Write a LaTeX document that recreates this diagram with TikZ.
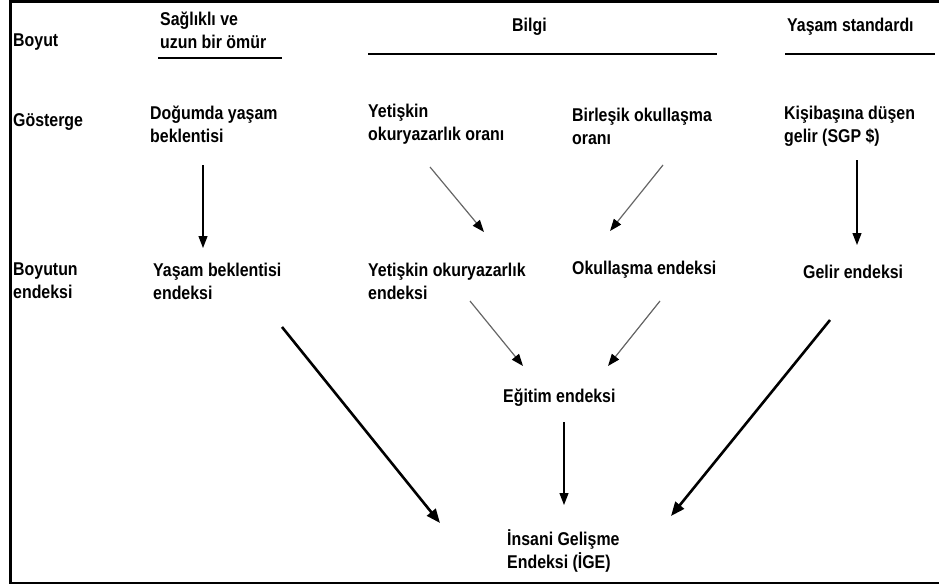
\documentclass[tikz,border=0pt]{standalone}
\usepackage{fontspec}
\setmainfont{Liberation Sans}[FakeStretch=0.86]
\usetikzlibrary{arrows.meta}

\begin{document}
\begin{tikzpicture}[x=1pt,y=-1pt,
    lbl/.style={anchor=west,align=left,inner sep=0pt,font=\fontsize{18.5}{23}\selectfont\bfseries},
    head line/.style={line width=1.6pt},
    thin arrow/.style={-{Triangle[length=12pt,width=9pt,color=black]},line width=1.2pt},
    gray arrow/.style={thin arrow,draw=black!60},
    thick arrow/.style={-{Triangle[length=14pt,width=11pt]},line width=2.6pt} ]
    \useasboundingbox (0,0) rectangle (939,587);
    \draw [line width=2.4pt] (939,1.5) -- (10.5,1.5) -- (10.5,583) -- (939,583);
    % row titles
    \node at (13,42) [lbl] (boyut) {Boyut};
    \node at (13,122) [lbl] (gosterge) {Gösterge};
    \node at (13,281) [lbl] (boyend) {Boyutun\\endeksi};
    % dimensions
    \node at (160,30) [lbl] (saglik) {Sağlıklı ve\\uzun bir ömür};
    \node at (512,27) [lbl] (bilgi) {Bilgi};
    \node at (787,27) [lbl] (yasam) {Yaşam standardı};
    \draw [head line] (158,58) -- (282,58);
    \draw [head line] (368,54) -- (717,54);
    \draw [head line] (785,54) -- (935,54);
    % indicators
    \node at (150,124) [lbl] (dogum) {Doğumda yaşam\\beklentisi};
    \node at (368,124) [lbl] (okuryaz) {Yetişkin\\okuryazarlık oranı};
    \node at (572,126) [lbl] (birlesik) {Birleşik okullaşma\\oranı};
    \node at (784,126) [lbl] (gelir) {Kişibaşına düşen\\gelir (SGP \$)};
    % dimension indices
    \node at (153,281) [lbl] (yasend) {Yaşam beklentisi\\endeksi};
    \node at (368,281) [lbl] (okuend) {Yetişkin okuryazarlık\\endeksi};
    \node at (572,270) [lbl] (okulend) {Okullaşma endeksi};
    \node at (803,272) [lbl] (gelend) {Gelir endeksi};
    \node at (503,398) [lbl] (egitim) {Eğitim endeksi};
    \node at (507,551) [lbl] (ige) {İnsani Gelişme\\Endeksi (İGE)};
    % arrow ends
    \coordinate (a1) at (203,165);
    \coordinate (b1) at (203,248);
    \coordinate (a2) at (430,167);
    \coordinate (b2) at (484,232);
    \coordinate (a3) at (663,165);
    \coordinate (b3) at (610,231);
    \coordinate (a4) at (857,160);
    \coordinate (b4) at (857,245);
    \coordinate (a5) at (470,301);
    \coordinate (b5) at (523,366);
    \coordinate (a6) at (660,301);
    \coordinate (b6) at (608,366);
    \coordinate (a7) at (564,422);
    \coordinate (b7) at (564,505);
    \coordinate (a8) at (282,327);
    \coordinate (b8) at (440,523);
    \coordinate (a9) at (830,320);
    \coordinate (b9) at (671,516);
    \draw [thin arrow] (a1) to (b1);
    \draw [gray arrow] (a2) to (b2);
    \draw [gray arrow] (a3) to (b3);
    \draw [thin arrow] (a4) to (b4);
    \draw [gray arrow] (a5) to (b5);
    \draw [gray arrow] (a6) to (b6);
    \draw [thin arrow] (a7) to (b7);
    \draw [thick arrow] (a8) to (b8);
    \draw [thick arrow] (a9) to (b9);
\end{tikzpicture}
\end{document}
